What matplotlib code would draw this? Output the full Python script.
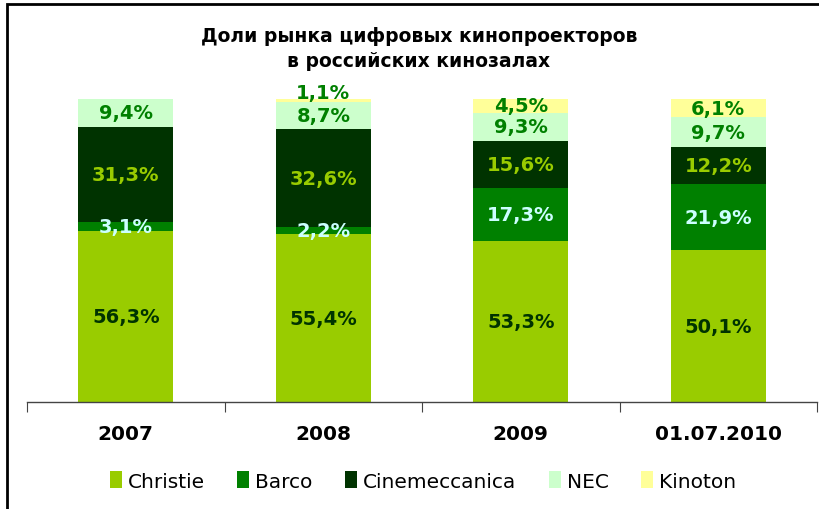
import matplotlib
matplotlib.use("Agg")
import matplotlib.pyplot as plt
from matplotlib.patches import Rectangle
import numpy as np

# Data
categories = ["2007", "2008", "2009", "01.07.2010"]
series_names = ["Christie", "Barco", "Cinemeccanica", "NEC", "Kinoton"]
christie = [56.3, 55.4, 53.3, 50.1]
barco = [3.1, 2.2, 17.3, 21.9]
cinemeccanica = [31.3, 32.6, 15.6, 12.2]
nec = [9.4, 8.7, 9.3, 9.7]
kinoton = [0.0, 1.1, 4.5, 6.1]

title = "Доли рынка цифровых кинопроекторов\nв российских кинозалах"

bar_colors = ["#99CC00", "#008000", "#003300", "#CCFFCC", "#FFFF99"]
label_colors = ["#003300", "#CCFFFF", "#99CC00", "#008000", "#008000"]

W, H = 819, 510
fig = plt.figure(figsize=(W / 100, H / 100), dpi=100)

# chart border (top/left visible, right/bottom clipped)
fig.patches.append(Rectangle((7 / W, -0.05), 1.2, 1 - 5 / H + 0.05,
                             transform=fig.transFigure, fill=False,
                             edgecolor="black", linewidth=2.0))

ax = fig.add_axes([27 / W, 1 - 403 / H, (817 - 27) / W, (403 - 100) / H])

x = np.arange(len(categories))
all_series = [christie, barco, cinemeccanica, nec, kinoton]
bottom = np.zeros(len(categories))
bars = []
for name, vals, col, lcol in zip(series_names, all_series, bar_colors, label_colors):
    vals = np.array(vals)
    b = ax.bar(x, vals, width=0.48, bottom=bottom, color=col, label=name,
               edgecolor="none")
    bars.append(b)
    for xi, v, bt in zip(x, vals, bottom):
        if v <= 0:
            continue
        yc = bt + v / 2
        if v < 2 and name == "Kinoton":
            # tiny top segment: label sits above the bar, as in the original
            yc += 2.6
        ax.text(xi, yc, f"{v:.1f}%".replace(".", ","),
                ha="center", va="center", color=lcol,
                fontsize=14, fontweight="bold")
    bottom = bottom + vals

ax.set_xlim(-0.5, len(categories) - 0.5)
ax.set_ylim(0, 100)
ax.set_yticks([])
for s in ["top", "right", "left"]:
    ax.spines[s].set_visible(False)
ax.spines["bottom"].set_linewidth(1.0)
ax.spines["bottom"].set_color("#444444")

# category boundary ticks
ax.set_xticks(np.arange(-0.5, len(categories), 1.0), minor=False)
ax.set_xticklabels([])
ax.tick_params(axis="x", which="major", length=7, direction="out", color="#444444")
for xi, c in zip(x, categories):
    ax.text(xi, -10.5, c, ha="center", va="center", fontsize=14.5,
            fontweight="bold", color="black", clip_on=False)

fig.text(419 / W, 1 - 49 / H, title, ha="center", va="center",
         fontsize=13.5, fontweight="bold", linespacing=1.4)

fig.legend(handles=bars, labels=series_names, loc="center",
           bbox_to_anchor=(423 / W, 1 - 482 / H), ncol=5, frameon=False,
           fontsize=14.5, handlelength=0.6, handleheight=0.9,
           handletextpad=0.3, columnspacing=1.6)

fig.savefig("out.png", dpi=100)
